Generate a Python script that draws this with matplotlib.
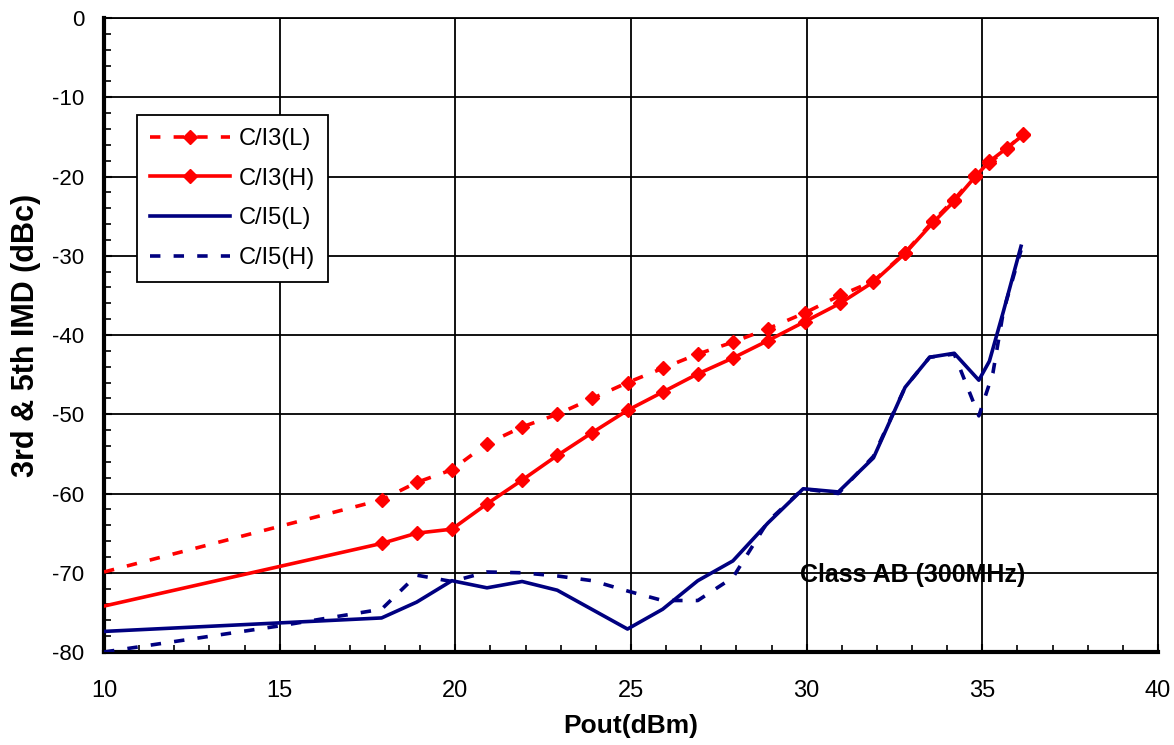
import matplotlib
matplotlib.use("Agg")
import matplotlib.pyplot as plt
from matplotlib.lines import Line2D
from matplotlib.ticker import MultipleLocator

plt.rcParams['font.family'] = ['Liberation Sans', 'DejaVu Sans']
plt.rcParams['axes.unicode_minus'] = False

# ---- data ----
x_i3 = [10, 17.9, 18.9, 19.9, 20.9, 21.9, 22.9, 23.9, 24.9, 25.9, 26.9, 27.9, 28.9,
        29.95, 30.95, 31.9, 32.8, 33.6, 34.2, 34.8, 35.2, 35.7, 36.15]
ci3_L = [-69.9, -60.8, -58.6, -57.0, -53.7, -51.6, -50.0, -48.0, -46.0, -44.2, -42.4, -40.9, -39.2,
         -37.2, -35.0, -33.2, -29.6, -25.6, -22.9, -19.8, -18.3, -16.5, -14.6]
ci3_H = [-74.2, -66.3, -65.0, -64.5, -61.3, -58.3, -55.2, -52.3, -49.5, -47.2, -44.9, -42.9, -40.7,
         -38.3, -36.0, -33.3, -29.7, -25.8, -23.1, -20.0, -18.1, -16.4, -14.8]

x_i5L = [10, 17.9, 18.9, 19.9, 20.9, 21.9, 22.9, 24.9, 25.9, 26.9, 27.9, 28.9, 29.9,
         30.9, 31.9, 32.8, 33.5, 34.2, 34.9, 35.2, 35.6, 36.1]
ci5_L = [-77.4, -75.7, -73.7, -71.0, -71.9, -71.1, -72.2, -77.1, -74.6, -71.0, -68.5, -63.7, -59.4,
         -59.8, -55.5, -46.6, -42.8, -42.3, -45.7, -43.3, -37.0, -28.8]

x_i5H = [10, 15, 17.9, 18.9, 19.9, 20.9, 21.9, 22.9, 23.9, 24.9, 25.9, 26.9, 27.9, 28.9, 29.9,
         30.9, 31.9, 32.8, 33.5, 34.2, 34.9, 35.3, 35.6, 36.1]
ci5_H = [-80.0, -76.7, -74.6, -70.3, -71.1, -69.9, -70.0, -70.4, -71.0, -72.3, -73.5, -73.5, -70.6, -63.5, -59.4,
         -60.0, -55.3, -46.6, -42.8, -42.4, -50.2, -44.8, -37.0, -29.3]

labels = ['C/I3(L)', 'C/I3(H)', 'C/I5(L)', 'C/I5(H)']
RED = '#ff0000'
NAVY = '#000080'

fig = plt.figure(figsize=(11.74, 7.45), dpi=100)
ax = fig.add_axes([0.0886, 0.1248, 0.8978, 0.851])

lw = 2.6
ms = 7.6
dash = (7.5 / lw, 9.5 / lw)

# red lines
ax.plot(x_i3, ci3_L, color=RED, lw=lw, ls=(0, dash), zorder=4)
ax.plot(x_i3[1:], ci3_L[1:], color=RED, ls='none', marker='D', ms=ms, zorder=5)
ax.plot(x_i3, ci3_H, color=RED, lw=lw, ls='-', zorder=4)
ax.plot(x_i3[1:], ci3_H[1:], color=RED, ls='none', marker='D', ms=ms, zorder=5)

# blue lines
ax.plot(x_i5L, ci5_L, color=NAVY, lw=lw, ls='-', zorder=4)
ax.plot(x_i5H, ci5_H, color=NAVY, lw=lw, ls=(0, dash), zorder=4)

ax.set_xlim(10, 40)
ax.set_ylim(-80, 0)
ax.xaxis.set_major_locator(MultipleLocator(5))
ax.xaxis.set_minor_locator(MultipleLocator(1))
ax.yaxis.set_major_locator(MultipleLocator(10))
ax.yaxis.set_minor_locator(MultipleLocator(2))
ax.grid(True, which='major', color='black', lw=1.3)
ax.set_axisbelow(True)

ax.tick_params(axis='both', which='both', direction='in', top=False, right=False)
ax.tick_params(axis='y', labelsize=16, pad=14)
ax.tick_params(axis='x', labelsize=17, pad=20)
ax.tick_params(which='major', length=6, width=1.5)
ax.tick_params(which='minor', length=5, width=1.2)

for s in ['left', 'bottom']:
    ax.spines[s].set_linewidth(3)
for s in ['top', 'right']:
    ax.spines[s].set_linewidth(1.3)

ax.set_xlabel('Pout(dBm)', fontsize=19, fontweight='bold', labelpad=9)
ax.set_ylabel('3rd & 5th IMD (dBc)', fontsize=22, fontweight='bold', labelpad=8)

ax.text(29.8, -70.3, 'Class AB (300MHz)', fontsize=18, fontweight='bold', va='center', ha='left', zorder=6)

handles = [
    Line2D([], [], color=RED, lw=lw, ls=(0, dash), marker='D', ms=ms),
    Line2D([], [], color=RED, lw=lw, ls='-', marker='D', ms=ms),
    Line2D([], [], color=NAVY, lw=lw, ls='-'),
    Line2D([], [], color=NAVY, lw=lw, ls=(0, dash)),
]
leg = ax.legend(handles, labels, loc='upper left', bbox_to_anchor=(0.031, 0.847),
                fontsize=17, frameon=True, fancybox=False, edgecolor='black', framealpha=1,
                handlelength=3.4, borderpad=0.55, labelspacing=0.75, handletextpad=0.37,
                borderaxespad=0)
leg.get_frame().set_linewidth(1.3)
leg.set_zorder(10)

fig.savefig('out.png', dpi=100)
